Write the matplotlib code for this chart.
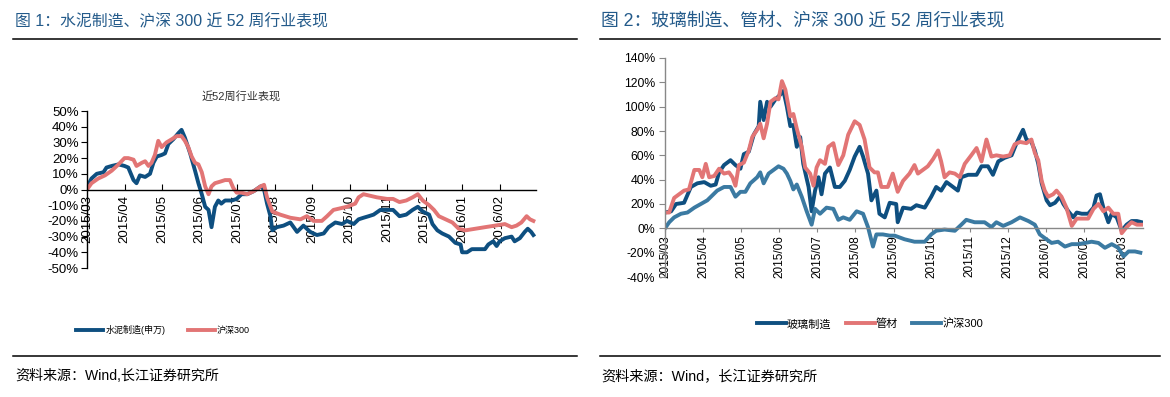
import matplotlib
matplotlib.use('Agg')
import matplotlib.pyplot as plt
import numpy as np

plt.rcParams['font.family'] = ['Liberation Sans', 'Noto Sans CJK SC', 'DejaVu Sans']

# x positions are month offsets from 2015/03
# ---- chart 1: 水泥制造(申万) vs 沪深300
cement_x = [0, 0.12, 0.26, 0.44, 0.52, 0.66, 0.84, 1.0, 1.10, 1.24, 1.32, 1.41, 1.55, 1.68, 1.77,
            1.86, 1.99, 2.08, 2.17, 2.30, 2.44, 2.52, 2.61, 2.75, 2.88, 2.97, 3.06, 3.15, 3.24, 3.32,
            3.41, 3.50, 3.58, 3.68, 3.86, 3.99, 4.12, 4.27, 4.45, 4.63, 4.72, 4.80, 4.89, 4.94, 5.06,
            5.24, 5.42, 5.60, 5.77, 5.95, 6.13, 6.31, 6.44, 6.62, 6.80, 6.93, 7.11, 7.24, 7.37, 7.51,
            7.64, 7.82, 8.0, 8.16, 8.33, 8.51, 8.68, 8.82, 8.95, 9.12, 9.21, 9.34, 9.47, 9.65, 9.82,
            9.96, 10.0, 10.13, 10.26, 10.44, 10.61, 10.70, 10.83, 10.92, 11.0, 11.14, 11.32, 11.40,
            11.54, 11.67, 11.75, 11.84, 11.9]
cement_y = [1.5, 7, 10, 11, 14, 15, 16, 15, 14, 6, 4, 9, 8, 10, 17,
            21, 22, 23, 29, 32, 36, 38, 33, 23, 12, 4, -3, -11, -13, -24,
            -11, -7, -9, -7, -7, -6, -3, -3, -1, 2, 0, -9, -17, -26, -24,
            -23, -21, -27, -23, -27, -29, -28, -24, -21, -22, -20, -22, -19, -18, -17,
            -16, -13, -13, -13, -17, -16, -13, -11, -14, -16, -22, -26, -28, -30, -34,
            -35, -40, -40, -38, -38, -38, -35, -33, -36, -33, -31, -30, -33,
            -31, -27, -25, -27, -29]

hs300_l_x = [0, 0.12, 0.30, 0.48, 0.66, 0.84, 1.0, 1.10, 1.24, 1.32, 1.46, 1.55, 1.64, 1.72, 1.81,
             1.90, 1.99, 2.12, 2.26, 2.39, 2.52, 2.61, 2.70, 2.79, 2.88, 2.97, 3.06, 3.15, 3.24, 3.32,
             3.41, 3.55, 3.68, 3.81, 3.90, 3.99, 4.12, 4.27, 4.45, 4.63, 4.72, 4.80, 4.94, 5.15, 5.42,
             5.69, 5.86, 6.04, 6.26, 6.40, 6.57, 6.75, 6.93, 7.15, 7.24, 7.37, 7.55, 7.73, 8.0, 8.16,
             8.33, 8.51, 8.68, 8.82, 8.95, 9.12, 9.25, 9.38, 9.56, 9.74, 9.91, 10.09, 10.35, 10.61,
             10.88, 11.14, 11.32, 11.45, 11.58, 11.72, 11.81, 11.9]
hs300_l_y = [0, 4, 7, 9, 12, 16, 20, 20, 19, 15, 17, 18, 15, 17, 22,
             31, 27, 30, 32, 34, 34, 31, 27, 21, 17, 16, 11, 2, -3, 2,
             4, 5, 6, 6, 1, -2, -2, -3, -1, 2, 3, -5, -14, -16, -18,
             -19, -17, -20, -20, -17, -13, -12, -11, -9, -5, -3, -4, -5, -6, -6,
             -8, -7, -5, -3, -7, -10, -13, -17, -19, -21, -25, -26, -25, -24,
             -23, -22, -24, -23, -21, -17, -19, -20]

months_l = ['2015/03', '2015/04', '2015/05', '2015/06', '2015/07', '2015/08', '2015/09',
            '2015/10', '2015/11', '2015/12', '2016/01', '2016/02']

# ---- chart 2: 玻璃制造, 管材, 沪深300
glass_x = [0, 0.16, 0.29, 0.50, 0.68, 0.85, 1.03, 1.20, 1.33, 1.42, 1.55, 1.72, 1.85, 1.98, 2.07,
           2.20, 2.33, 2.46, 2.50, 2.59, 2.68, 2.77, 2.90, 3.03, 3.11, 3.20, 3.29, 3.37, 3.46, 3.55,
           3.63, 3.77, 3.85, 3.94, 4.03, 4.11, 4.20, 4.33, 4.46, 4.59, 4.72, 4.85, 4.98, 5.11, 5.20,
           5.33, 5.42, 5.55, 5.63, 5.77, 5.90, 6.07, 6.11, 6.25, 6.46, 6.60, 6.82, 6.99, 7.12, 7.25,
           7.39, 7.52, 7.69, 7.78, 7.96, 8.18, 8.31, 8.48, 8.61, 8.75, 8.92, 9.10, 9.23, 9.32, 9.40,
           9.49, 9.62, 9.71, 9.80, 9.89, 10.02, 10.11, 10.24, 10.37, 10.46, 10.59, 10.72, 10.81,
           10.94, 11.11, 11.25, 11.33, 11.42, 11.51, 11.64, 11.73, 11.86, 11.99, 12.12, 12.25,
           12.39, 12.52]
glass_y = [13, 14, 20, 21, 34, 37, 38, 35, 36, 46, 52, 56, 52, 49, 61,
           63, 77, 84, 104, 89, 104, 100, 106, 110, 113, 100, 84, 85, 67, 75,
           53, 34, 14, 31, 42, 28, 45, 50, 34, 34, 39, 48, 59, 67, 59,
           45, 23, 31, 12, 9, 21, 20, 5, 17, 16, 19, 17, 26, 34, 31,
           38, 35, 31, 42, 44, 44, 51, 51, 44, 55, 58, 60, 70, 76, 81,
           73, 71, 64, 53, 37, 23, 19, 21, 26, 20, 14, 9, 13,
           12, 12, 17, 27, 28, 17, 5, 12, 9, -2, 3, 6,
           6, 5]

pipe_x = [0, 0.11, 0.24, 0.37, 0.50, 0.63, 0.77, 0.90, 0.98, 1.07, 1.16, 1.29, 1.42, 1.55, 1.68,
          1.77, 1.85, 1.94, 2.07, 2.20, 2.29, 2.42, 2.50, 2.59, 2.68, 2.77, 2.90, 2.98, 3.07, 3.16,
          3.29, 3.37, 3.46, 3.59, 3.68, 3.81, 3.90, 3.98, 4.07, 4.20, 4.29, 4.42, 4.55, 4.68, 4.81,
          4.98, 5.11, 5.24, 5.37, 5.50, 5.59, 5.68, 5.85, 5.98, 6.11, 6.25, 6.42, 6.55, 6.64, 6.90,
          7.04, 7.17, 7.25, 7.34, 7.47, 7.61, 7.74, 7.87, 8.04, 8.18, 8.31, 8.44, 8.57, 8.70, 8.88,
          9.05, 9.18, 9.32, 9.49, 9.62, 9.71, 9.80, 9.89, 9.97, 10.06, 10.19, 10.28, 10.41, 10.54,
          10.68, 10.81, 10.98, 11.11, 11.25, 11.38, 11.51, 11.64, 11.77, 11.90, 11.99, 12.12,
          12.25, 12.39, 12.52]
pipe_y = [13, 13, 25, 28, 31, 32, 48, 48, 42, 53, 42, 43, 49, 45, 46,
          42, 35, 52, 54, 64, 75, 81, 86, 74, 86, 104, 107, 106, 121, 114,
          92, 94, 82, 67, 50, 45, 35, 50, 56, 53, 67, 70, 52, 60, 77,
          88, 85, 73, 50, 46, 46, 34, 34, 45, 30, 39, 45, 52, 45, 51,
          57, 64, 55, 42, 46, 45, 42, 53, 60, 66, 55, 73, 59, 60, 59,
          60, 69, 71, 70, 73, 62, 56, 39, 31, 26, 28, 31, 26, 17,
          2, 8, 8, 8, 16, 20, 14, 17, 12, 12, -4, 1,
          5, 3, 3]

hs300_r_x = [0, 0.11, 0.24, 0.42, 0.59, 0.77, 0.94, 1.11, 1.24, 1.37, 1.55, 1.72, 1.85, 1.98, 2.11,
             2.24, 2.42, 2.50, 2.59, 2.72, 2.85, 2.98, 3.11, 3.20, 3.29, 3.37, 3.46, 3.59, 3.72, 3.85,
             3.94, 4.07, 4.24, 4.42, 4.55, 4.68, 4.85, 5.03, 5.20, 5.33, 5.46, 5.55, 5.72, 5.90, 6.03,
             6.29, 6.55, 6.82, 6.99, 7.12, 7.34, 7.61, 7.78, 7.91, 8.13, 8.39, 8.57, 8.70, 8.88, 9.10,
             9.32, 9.54, 9.71, 9.84, 9.97, 10.15, 10.32, 10.50, 10.68, 10.85, 11.03, 11.20, 11.38,
             11.55, 11.73, 11.90, 12.04, 12.17, 12.34, 12.48]
hs300_r_y = [0, 5, 9, 12, 13, 17, 20, 23, 27, 31, 34, 34, 26, 30, 30,
             37, 42, 46, 37, 45, 48, 51, 49, 45, 39, 32, 36, 26, 14, 3,
             16, 12, 17, 16, 7, 9, 7, 14, 12, 1, -15, -5, -5, -6, -6,
             -9, -11, -11, -5, -2, -1, -2, 3, 7, 5, 5, 1, 5, 2, 5,
             9, 6, 3, -5, -8, -12, -11, -15, -13, -13, -12, -11, -12,
             -16, -13, -16, -23, -19, -19, -20]

months_r = months_l + ['2016/03']

c_dark = '#0E4F80'
c_red = '#E27575'
c_steel = '#3B7AA2'
c_title = '#235A8A'

fig = plt.figure(figsize=(11.7, 3.97), dpi=100)

# headers and rules
fig.text(15 / 1170, 1 - 21 / 397, '图 1：水泥制造、沪深 300 近 52 周行业表现', fontsize=11.4,
         color=c_title, va='center', ha='left')
fig.text(601 / 1170, 1 - 21 / 397, '图 2：玻璃制造、管材、沪深 300 近 52 周行业表现', fontsize=12.8,
         color=c_title, va='center', ha='left')
for x0, x1 in [(13, 577), (600, 1160)]:
    for yy in [39, 356]:
        fig.add_artist(plt.Line2D([x0 / 1170, x1 / 1170], [1 - yy / 397, 1 - yy / 397],
                                  color='black', lw=1.1))
fig.text(15 / 1170, 1 - 376 / 397, '资料来源：Wind,长江证券研究所', fontsize=10.1,
         color='black', va='center', ha='left')
fig.text(601 / 1170, 1 - 376 / 397, '资料来源：Wind，长江证券研究所', fontsize=10.2,
         color='black', va='center', ha='left')

# ---- left chart
ax1 = fig.add_axes([87 / 1170, 1 - 268 / 397, (536 - 87) / 1170, (268 - 111) / 397])
ax1.spines['top'].set_visible(False)
ax1.spines['right'].set_visible(False)
ax1.spines['bottom'].set_position(('data', 0))
for s in ['left', 'bottom']:
    ax1.spines[s].set_linewidth(1)
ax1.plot(cement_x, cement_y, color=c_dark, lw=2.8, label='水泥制造(申万)', solid_joinstyle='round')
ax1.plot(hs300_l_x, hs300_l_y, color=c_red, lw=2.8, label='沪深300', solid_joinstyle='round')
ax1.set_xlim(0, 11.97)
ax1.set_ylim(-50, 50)
ax1.set_yticks(np.arange(-50, 51, 10))
ax1.set_yticklabels(['%d%%' % v for v in np.arange(-50, 51, 10)], fontsize=9.5)
ax1.set_xticks(range(len(months_l)))
ax1.set_xticklabels(months_l, rotation=90, fontsize=9.5)
ax1.tick_params(axis='x', direction='in', length=4, pad=4)
ax1.tick_params(axis='y', direction='out', length=4, pad=2)
fig.text(241 / 1170, 1 - 97 / 397, '近52周行业表现', fontsize=8, color='#333333',
         ha='center', va='center')
fig.legend(handles=ax1.get_lines(), loc='center', bbox_to_anchor=(163 / 1170, 1 - 330 / 397),
           ncol=2, frameon=False, fontsize=6.5, handlelength=3.0, handletextpad=0.2,
           columnspacing=2.5)

# ---- right chart
ax2 = fig.add_axes([665 / 1170, 1 - 277 / 397, (1143 - 665) / 1170, (277 - 58) / 397])
ax2.spines['top'].set_visible(False)
ax2.spines['right'].set_visible(False)
ax2.spines['bottom'].set_position(('data', 0))
for s in ['left', 'bottom']:
    ax2.spines[s].set_color('#888888')
    ax2.spines[s].set_linewidth(1)
ax2.plot(glass_x, glass_y, color=c_dark, lw=2.8, label='玻璃制造', solid_joinstyle='round')
ax2.plot(pipe_x, pipe_y, color=c_red, lw=2.8, label='管材', solid_joinstyle='round')
ax2.plot(hs300_r_x, hs300_r_y, color=c_steel, lw=2.8, label='沪深300', solid_joinstyle='round')
ax2.set_xlim(0, 12.55)
ax2.set_ylim(-40, 140)
ax2.set_yticks(np.arange(-40, 141, 20))
ax2.set_yticklabels(['%d%%' % v for v in np.arange(-40, 141, 20)], fontsize=8.8)
ax2.set_xticks(range(len(months_r)))
ax2.set_xticklabels(months_r, rotation=90, fontsize=8.5)
ax2.tick_params(axis='x', direction='out', length=3, pad=2, color='#888888')
ax2.tick_params(axis='y', direction='out', length=4, pad=3, color='#888888')
fig.legend(handles=ax2.get_lines(), loc='center', bbox_to_anchor=(870 / 1170, 1 - 324 / 397),
           ncol=3, frameon=False, fontsize=8, handlelength=2.6, handletextpad=0.1,
           columnspacing=1.3)

fig.savefig('out.png', dpi=100)
